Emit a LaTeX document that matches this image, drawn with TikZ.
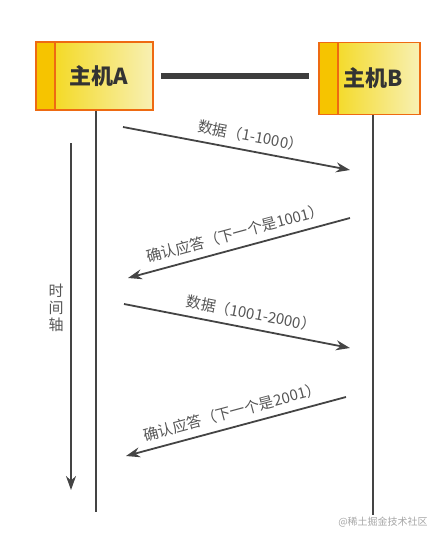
\documentclass[tikz,border=0pt]{standalone}
\usepackage{fontspec}
\setmainfont{Noto Sans CJK SC}
\usetikzlibrary{arrows.meta}

\definecolor{boxedge}{HTML}{EE6A12}
\definecolor{boxleft}{HTML}{F3D60C}
\definecolor{boxright}{HTML}{F8F0B4}
\definecolor{boxstrip}{HTML}{F6C400}
\definecolor{linegray}{HTML}{444444}
\definecolor{labelgray}{HTML}{555555}

\tikzset{
  host/.style={draw=boxedge, line width=1.6pt, left color=boxleft, right color=boxright,
    minimum width=117pt, minimum height=68pt, text=black!80, font=\fontsize{22}{22}\selectfont\bfseries,
    path picture={
      \fill[boxstrip] (path picture bounding box.north west) rectangle ([xshift=19pt]path picture bounding box.south west);
      \draw[boxedge, line width=1.6pt] ([xshift=19pt]path picture bounding box.north west) -- ([xshift=19pt]path picture bounding box.south west);
    }},
  lifeline/.style={draw=linegray, line width=1.8pt},
  msg/.style={draw=linegray, line width=1.8pt, -{Stealth[length=14pt,width=10pt]}},
  msglabel/.style={text=labelgray, font=\fontsize{15}{15}\selectfont, sloped, above, inner sep=7pt}
}

\begin{document}
\begin{tikzpicture}[x=1pt, y=-1pt]
    \useasboundingbox (0,0) rectangle (438,541);

    \node[host] (hostA) at (94.5,76) {\hspace{8pt}主机A};
    \node[host, minimum width=101pt, minimum height=72pt] (hostB) at (369.5,78.5) {\hspace{8pt}主机B};
    \draw[linegray!90!black, line width=6pt, shorten <=7pt, shorten >=9pt] (hostA.east) -- (hostA.east -| hostB.west);

    % lifelines
    \coordinate (endA) at (96,512);
    \coordinate (endB) at (373,515);
    \draw[lifeline] (hostA.south -| endA) -- (endA);
    \draw[lifeline] (hostB.south -| endB) -- (endB);

    % time axis
    \coordinate (timeTop) at (71,143);
    \coordinate (timeEnd) at (71,490);
    \draw[msg] (timeTop) -- (timeEnd);
    \node[text=labelgray, font=\fontsize{15}{17}\selectfont, align=center] (timeLabel) at (56,308) {时\\间\\轴};

    % messages
    \coordinate (m1s) at (123,127);
    \coordinate (m1e) at (350,170);
    \coordinate (m2s) at (350,218);
    \coordinate (m2e) at (128,278);
    \coordinate (m3s) at (124,304);
    \coordinate (m3e) at (350,348);
    \coordinate (m4s) at (346,397);
    \coordinate (m4e) at (126,456);

    \draw[msg] (m1s) -- node[msglabel, pos=0.55] {数据（1-1000）} (m1e);
    \draw[msg] (m2s) -- node[msglabel, pos=0.5] {确认应答（下一个是1001）} (m2e);
    \draw[msg] (m3s) -- node[msglabel, pos=0.55] {数据（1001-2000）} (m3e);
    \draw[msg] (m4s) -- node[msglabel, pos=0.5] {确认应答（下一个是2001）} (m4e);

    \node[text=black!35, font=\fontsize{10}{10}\selectfont] (mark) at (383,522) {@稀土掘金技术社区};
\end{tikzpicture}
\end{document}
